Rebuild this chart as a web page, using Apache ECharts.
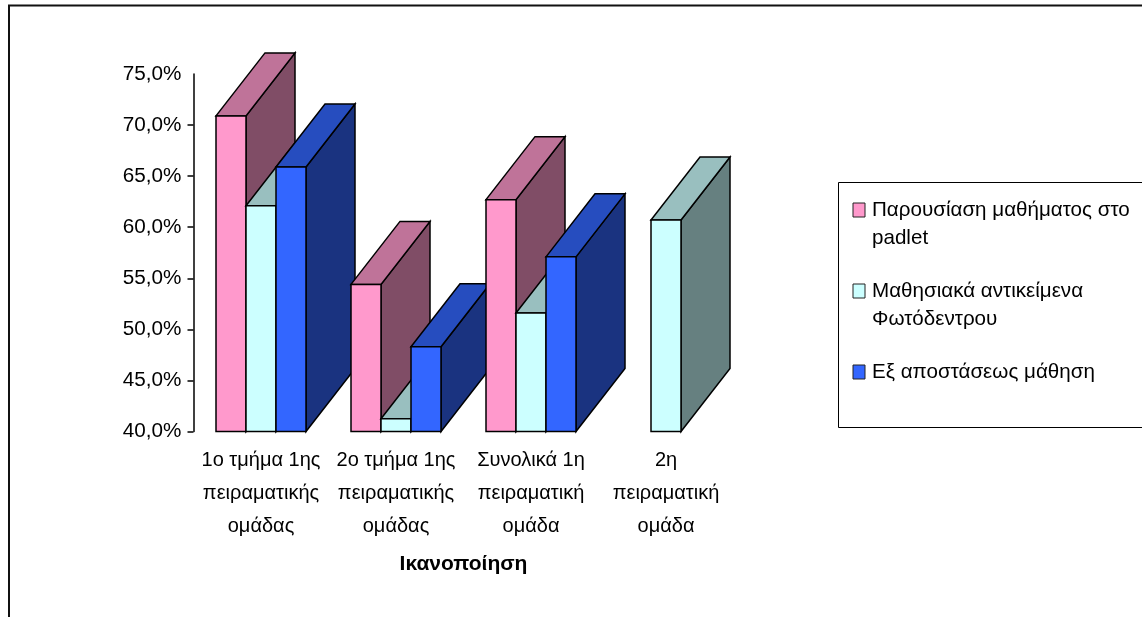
<!DOCTYPE html>
<html>
<head>
<meta charset="utf-8">
<style>html,body{margin:0;padding:0;background:#fff}#c{width:1142px;height:617px}</style>
<script src="https://cdn.jsdelivr.net/npm/echarts@6/dist/echarts.min.js"></script>
</head>
<body>
<div id="c"></div>
<script>
// Ικανοποίηση ανά ομάδα: ψευδο-τρισδιάστατες ομαδοποιημένες στήλες
const categories = [
  '1ο τμήμα 1ης\nπειραματικής\nομάδας',
  '2ο τμήμα 1ης\nπειραματικής\nομάδας',
  'Συνολικά 1η\nπειραματική\nομάδα',
  '2η\nπειραματική\nομάδα'
];
const padlet = [70.9, 54.4, 62.7, null];
const photodentro = [62.1, 41.25, 51.6, 60.7];
const distance = [65.9, 48.3, 57.1, null];

const seriesNames = [
  'Παρουσίαση μαθήματος στο\npadlet',
  'Μαθησιακά αντικείμενα\nΦωτόδεντρου',
  'Εξ αποστάσεως μάθηση'
];
const seriesValues = [padlet, photodentro, distance];
const yTicks = [40, 45, 50, 55, 60, 65, 70];

// front, top and side shades of each series
const shades = [
  { front: '#ff99cc', top: '#bf7399', side: '#804d66' },
  { front: '#ccffff', top: '#99bfbf', side: '#668080' },
  { front: '#3366ff', top: '#264dbf', side: '#1a3380' }
];

const DEPTH_X = 49;
const DEPTH_Y = 63;
const STROKE = { stroke: '#000', lineWidth: 1.5, lineJoin: 'miter' };

function renderBar(seriesIndex) {
  return function (params, api) {
    const v = api.value(1);
    if (v == null || isNaN(v)) return null;
    const cat = api.value(0);
    const band = api.size([1, 0])[0];
    const w = band / 4.5;
    const c = api.coord([cat, v]);
    const b = api.coord([cat, 40]);
    const x0 = c[0] - 1.5 * w + seriesIndex * w;
    const x1 = x0 + w;
    const yt = c[1], yb = b[1];
    const col = shades[seriesIndex];
    const z2 = cat * 10 + seriesIndex;
    return {
      type: 'group',
      children: [
        { type: 'polygon', z2,
          shape: { points: [[x1, yt], [x1 + DEPTH_X, yt - DEPTH_Y], [x1 + DEPTH_X, yb - DEPTH_Y], [x1, yb]] },
          style: Object.assign({ fill: col.side }, STROKE) },
        { type: 'polygon', z2,
          shape: { points: [[x0, yt], [x0 + DEPTH_X, yt - DEPTH_Y], [x1 + DEPTH_X, yt - DEPTH_Y], [x1, yt]] },
          style: Object.assign({ fill: col.top }, STROKE) },
        { type: 'rect', z2,
          shape: { x: x0, y: yt, width: w, height: yb - yt },
          style: Object.assign({ fill: col.front }, STROKE) }
      ]
    };
  };
}

// legend panel and its entries
const legendSwatchX = 853, legendTextX = 872;
const legendRows = [210, 291, 372];
const legendGraphics = [
  { type: 'rect', silent: true, z: 20,
    shape: { x: 838.5, y: 182.5, width: 310, height: 245 },
    style: { fill: '#fff', stroke: '#000', lineWidth: 1 } }
];
seriesNames.forEach(function (name, i) {
  legendGraphics.push({ type: 'rect', silent: true, z: 21,
    shape: { x: legendSwatchX, y: legendRows[i] - 7, width: 12, height: 14 },
    style: { fill: shades[i].front, stroke: '#222', lineWidth: 1 } });
  legendGraphics.push({ type: 'text', silent: true, z: 21, x: legendTextX, y: legendRows[i] - 14,
    style: { text: name, fill: '#000', font: '20.6px "Liberation Sans"', lineHeight: 28,
      textAlign: 'left', textVerticalAlign: 'top' } });
});

const chart = echarts.init(document.getElementById('c'), null, { renderer: 'canvas' });
chart.setOption({
  animation: false,
  backgroundColor: '#fff',
  textStyle: { fontFamily: '"Liberation Sans"' },
  grid: { left: 193.5, top: 74, width: 540, height: 357.5, containLabel: false },
  xAxis: {
    type: 'category',
    data: categories,
    name: 'Ικανοποίηση',
    nameLocation: 'middle',
    nameGap: 122,
    nameTextStyle: { color: '#000', fontSize: 21, fontWeight: 'bold' },
    axisLine: { show: false },
    axisTick: { show: false },
    axisLabel: { color: '#000', fontSize: 20, lineHeight: 33, margin: 12, interval: 0 }
  },
  yAxis: {
    type: 'value',
    min: 40,
    max: 75,
    interval: 5,
    splitLine: { show: false },
    axisLine: { show: true, lineStyle: { color: '#000', width: 1.5 } },
    axisTick: { show: true, length: 6, customValues: yTicks, lineStyle: { color: '#000', width: 1.5 } },
    axisLabel: {
      color: '#000', fontSize: 20.7, margin: 12,
      formatter: function (v) { return v.toFixed(1).replace('.', ',') + '%'; }
    }
  },
  series: seriesNames.map(function (name, i) {
    return {
      type: 'custom',
      name: name,
      renderItem: renderBar(i),
      encode: { x: 0, y: 1 },
      clip: false,
      data: categories.map(function (_, k) { return [k, seriesValues[i][k]]; })
    };
  }),
  graphic: [
    { type: 'polyline', silent: true, z: 19,
      shape: { points: [[9, 617], [9, 5.5], [1142, 5.5]] },
      style: { fill: null, stroke: '#111', lineWidth: 2 } }
  ].concat(legendGraphics)
});
</script>
</body>
</html>
